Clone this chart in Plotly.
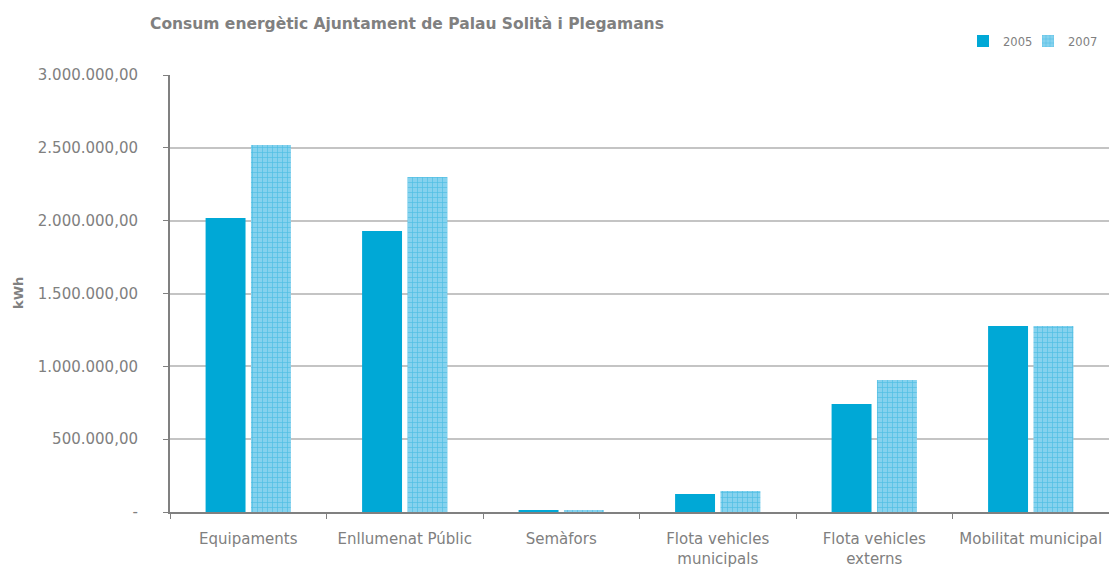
import plotly.graph_objects as go

categories = ["Equipaments", "Enllumenat Públic", "Semàfors",
              "Flota vehicles<br>municipals", "Flota vehicles<br>externs", "Mobilitat municipal"]
values_2005 = [2018000, 1929000, 13000, 124000, 741000, 1277000]
values_2007 = [2519000, 2300000, 8000, 144000, 906000, 1277000]
tick_vals = [0, 500000, 1000000, 1500000, 2000000, 2500000, 3000000]
tick_text = ["-", "500.000,00", "1.000.000,00", "1.500.000,00", "2.000.000,00", "2.500.000,00", "3.000.000,00"]

GRAY = "#808080"
FONT = "DejaVu Sans, Arial, sans-serif"

# page body has an 8px margin; layout values below compensate for it
W, H = 1101, 567
L, R, T, B = 162, 0, 67, 63
PW, PH = W - L - R, H - T - B

fig = go.Figure()
fig.add_trace(go.Bar(x=categories, y=values_2005, name="2005", legend="legend",
                     marker=dict(color="#00a8d6", line=dict(width=0))))
fig.add_trace(go.Bar(x=categories, y=values_2007, name="2007", legend="legend2",
                     marker=dict(color="#86d2ee", line=dict(width=0),
                                 pattern=dict(shape="+", size=5, solidity=0.25,
                                              fgcolor="#18a9d8", fillmode="overlay"))))

leg_common = dict(orientation="h", xanchor="left", yanchor="middle", y=1-33/H,
                  font=dict(size=11.5, color=GRAY, family=FONT), bgcolor="rgba(0,0,0,0)",
                  xref="container", yref="container")

fig.update_layout(
    width=W, height=H,
    margin=dict(l=L, r=R, t=T, b=B, autoexpand=False),
    paper_bgcolor="white", plot_bgcolor="white",
    font=dict(family=FONT, color=GRAY, size=14),
    separators=",.",
    barmode="group", bargap=0.42, bargroupgap=0.12,
    title=dict(text="<b>Consum energètic Ajuntament de Palau Solità i Plegamans</b>",
               x=142/W, xanchor="left", y=1-16/H, yanchor="middle",
               font=dict(size=15.5, color=GRAY, family=FONT)),
    legend=dict(x=955/W, **leg_common),
    legend2=dict(x=1020/W, **leg_common),
    showlegend=True,
    annotations=[dict(text="<b>kWh</b>", x=(10-L)/PW, y=(H-B-285)/PH, xref="paper", yref="paper",
                      xanchor="center", yanchor="middle", textangle=-90, showarrow=False,
                      font=dict(size=13, color=GRAY, family=FONT))],
)

fig.update_yaxes(range=[0, 3000000], tickvals=tick_vals, ticktext=tick_text,
                 showgrid=True, gridcolor="#c4c4c4", gridwidth=1.5,
                 showline=True, linecolor="#808080", linewidth=2,
                 ticks="outside", ticklen=5, tickcolor="#808080", ticklabelstandoff=22,
                 tickfont=dict(size=15, color=GRAY), zeroline=False, automargin=False)
fig.update_xaxes(showline=True, linecolor="#808080", linewidth=2,
                 ticks="outside", ticklen=5, tickcolor="#808080", tickson="boundaries",
                 ticklabelstandoff=12,
                 tickfont=dict(size=15, color=GRAY), automargin=False)

fig.write_html("out.html")
